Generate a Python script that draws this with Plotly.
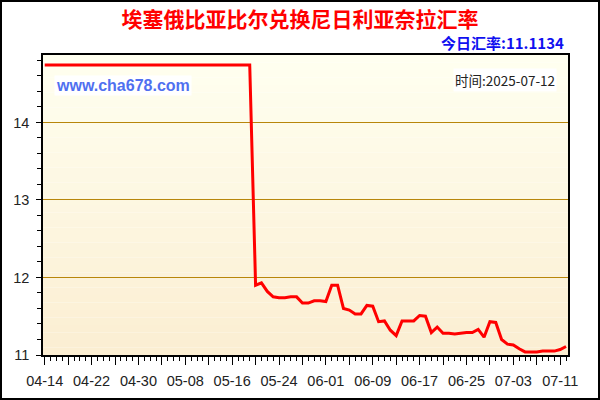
import pandas as pd
import plotly.graph_objects as go

# daily rate, 2025-04-14 .. 2025-07-12
dates = pd.date_range("2025-04-14", "2025-07-12", freq="D")
rates = [14.74] * 36 + [
    11.90, 11.93, 11.82, 11.75, 11.74, 11.74, 11.75, 11.75, 11.67, 11.67, 11.70, 11.70,
    11.69, 11.90, 11.90, 11.60, 11.58, 11.53, 11.53, 11.64, 11.63, 11.43,
    11.44, 11.32, 11.25, 11.44, 11.44, 11.44, 11.51, 11.50, 11.29, 11.36,
    11.28, 11.28, 11.27, 11.28, 11.29, 11.29, 11.33, 11.23, 11.43, 11.42,
    11.20, 11.14, 11.13, 11.08, 11.04, 11.04, 11.04, 11.05, 11.05, 11.05, 11.07, 11.11,
]
tick_dates = ["2025-04-14", "2025-04-18", "2025-04-22", "2025-04-26", "2025-04-30",
              "2025-05-04", "2025-05-08", "2025-05-12", "2025-05-16", "2025-05-20",
              "2025-05-24", "2025-05-28", "2025-06-01", "2025-06-05", "2025-06-09",
              "2025-06-13", "2025-06-17", "2025-06-21", "2025-06-25", "2025-06-29",
              "2025-07-03", "2025-07-07", "2025-07-11"]
tick_text = ["04-14", "", "04-22", "", "04-30", "", "05-08", "", "05-16", "",
             "05-24", "", "06-01", "", "06-09", "", "06-17", "", "06-25", "",
             "07-03", "", "07-11"]
title = "埃塞俄比亚比尔兑换尼日利亚奈拉汇率"
today_rate = "今日汇率:11.1134"
site = "www.cha678.com"
stamp = "时间:2025-07-12"

W, H = 600, 400
L, R, T, B = 43, 32, 55, 45
PW, PH = W - L - R, H - T - B
x_range = ["2025-04-13 17:00", "2025-07-12 08:00"]
y_range = [11, 14.87]
DAY = 86400000
GOLD = "#B8860B"


def px(x, y):
    return (x - L) / PW, (H - B - y) / PH


fig = go.Figure()
fig.add_trace(go.Scatter(x=dates, y=rates, mode="lines",
                         line=dict(color="#FF0000", width=3),
                         showlegend=False, hoverinfo="skip"))

# gradient plot background
shapes = []
n = 40
top, bot = (255, 255, 240), (251, 238, 210)
for i in range(n):
    t = i / (n - 1)
    c = tuple(round(top[k] + (bot[k] - top[k]) * t) for k in range(3))
    shapes.append(dict(type="rect", xref="paper", yref="paper", layer="below",
                       x0=0, x1=1, y0=1 - (i + 1) / n, y1=1 - i / n,
                       fillcolor="rgb(%d,%d,%d)" % c, line=dict(width=0)))
# outer frame
x0, y0 = px(1, H - 1)
x1, y1 = px(W - 1, 1)
shapes.append(dict(type="rect", xref="paper", yref="paper", x0=x0, x1=x1, y0=y0, y1=y1,
                   line=dict(color="black", width=2)))

tick_font = dict(family="Liberation Sans, Arial", size=14.5, color="#222")
fig.update_layout(
    width=W, height=H,
    margin=dict(l=L, r=R, t=T, b=B),
    paper_bgcolor="white", plot_bgcolor="rgba(0,0,0,0)",
    shapes=shapes,
    title=dict(text="<b>%s</b>" % title, x=0.5, xanchor="center", y=1 - 20 / H,
               yanchor="middle",
               font=dict(family="Noto Sans CJK SC", size=21, color="#FF0000")),
    xaxis=dict(type="date", range=x_range, tickvals=tick_dates, ticktext=tick_text,
               ticks="outside", ticklen=8, tickcolor="black", tickfont=tick_font,
               ticklabelstandoff=4,
               showgrid=False, zeroline=False, showline=True, linecolor="black",
               linewidth=1.5, mirror=True,
               minor=dict(dtick=DAY, tick0="2025-04-14", ticks="outside", ticklen=4,
                          tickcolor="black", showgrid=False)),
    yaxis=dict(range=y_range, dtick=1, tick0=11, ticks="outside", ticklen=5,
               tickcolor="black", tickfont=tick_font, showgrid=True, gridcolor=GOLD,
               ticklabelstandoff=4,
               gridwidth=1, zeroline=False, showline=True, linecolor="black",
               linewidth=1.5, mirror=True,
               minor=dict(dtick=0.2, ticks="outside", ticklen=4, tickcolor="black",
                          showgrid=False)),
)

ax, ay = px(566, 43)
fig.add_annotation(text="<b>%s</b>" % today_rate, xref="paper", yref="paper", x=ax, y=ay,
                   xanchor="right", yanchor="middle", showarrow=False,
                   font=dict(family="Noto Sans CJK SC", size=15, color="#1010F0"))
ax, ay = px(54, 85)
fig.add_annotation(text="<b>%s</b>" % site, xref="paper", yref="paper", x=ax, y=ay,
                   xanchor="left", yanchor="middle", showarrow=False, bgcolor="white",
                   font=dict(family="Liberation Sans, Arial", size=16, color="#5070F0"))
ax, ay = px(557, 80)
fig.add_annotation(text=stamp, xref="paper", yref="paper", x=ax, y=ay,
                   xanchor="right", yanchor="middle", showarrow=False, bgcolor="white",
                   font=dict(family="Noto Sans CJK SC", size=13.5, color="#222"))

fig.write_html("out.html", config={"displayModeBar": False},
               post_script="document.body.style.margin='0';")
